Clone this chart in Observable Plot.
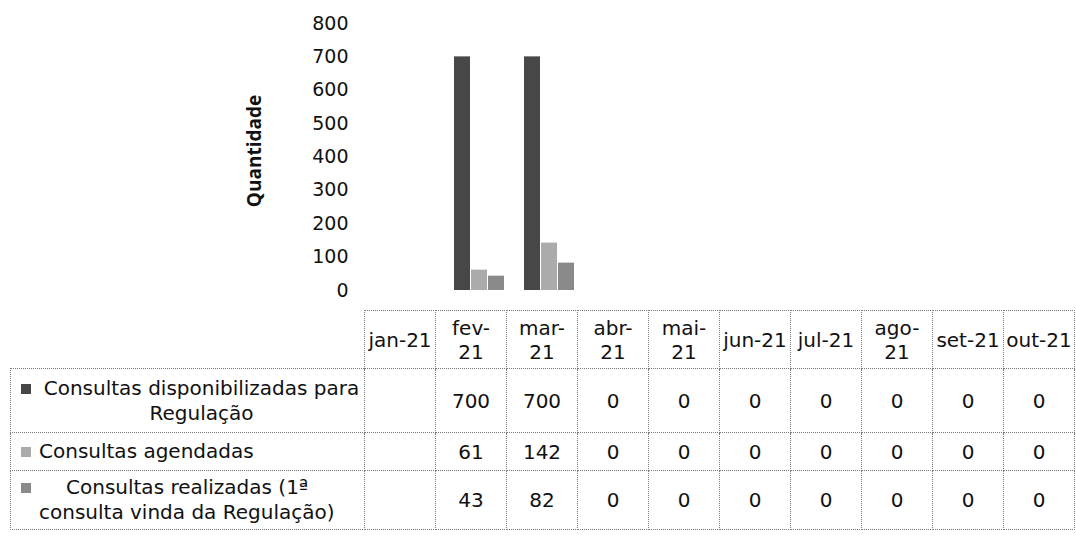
<!DOCTYPE html>
<html><head><meta charset="utf-8">
<script src="https://cdn.jsdelivr.net/npm/d3@7"></script>
<script src="https://cdn.jsdelivr.net/npm/@observablehq/plot@0.6"></script>
<style>
body{margin:0;background:#fff;}
#wrap{position:relative;width:1076px;height:537px;overflow:hidden;font-family:"DejaVu Sans",sans-serif;color:#111;background:#fff;}
#chart{position:absolute;left:0;top:0;}
#ylabel{position:absolute;left:254px;top:151px;transform:translate(-50%,-50%) rotate(-90deg);font-family:"Open Sans",sans-serif;font-weight:700;font-size:19px;white-space:nowrap;color:#111;}
table{position:absolute;left:10px;top:310px;border-collapse:collapse;table-layout:fixed;font-size:20px;}
td{border:1px dotted #7a7a7a;text-align:center;vertical-align:middle;padding:0;white-space:pre-line;line-height:24px;}
td.blank{border:none;}
tr.head td{height:57px;}
.lab{position:relative;padding-left:28px;white-space:pre-line;line-height:25px;}
.sw{position:absolute;left:10px;top:8px;width:10px;height:10px;}
</style>
</head><body>
<div id="wrap">
  <div id="chart"></div>
  <div id="ylabel">Quantidade</div>
  <table id="tbl"></table>
</div>
<script>
// ---- data ----
const months = ["jan-21","fev-21","mar-21","abr-21","mai-21","jun-21","jul-21","ago-21","set-21","out-21"];
const headerLabels = ["jan-21","fev-\n21","mar-\n21","abr-\n21","mai-\n21","jun-21","jul-21","ago-\n21","set-21","out-21"];
const series = [
  "Consultas disponibilizadas para Regulação",
  "Consultas agendadas",
  "Consultas realizadas (1ª consulta vinda da Regulação)"
];
const seriesLabels = [
  "Consultas disponibilizadas para\nRegulação",
  "Consultas agendadas",
  "Consultas realizadas (1ª\nconsulta vinda da Regulação)"
];
const disponibilizadas = [null, 700, 700, 0, 0, 0, 0, 0, 0, 0];
const agendadas        = [null,  61, 142, 0, 0, 0, 0, 0, 0, 0];
const realizadas       = [null,  43,  82, 0, 0, 0, 0, 0, 0, 0];
const yTicks = [0, 100, 200, 300, 400, 500, 600, 700, 800];

// ---- styles ----
const colors = ["#474747", "#ababab", "#8a8a8a"];

const values = [disponibilizadas, agendadas, realizadas];
const rows = [];
months.forEach((m, i) => {
  series.forEach((s, j) => rows.push({month: m, serie: s, value: values[j][i]}));
});

const chart = Plot.plot({
  width: 1076,
  height: 306,
  marginLeft: 374,
  marginRight: 2,
  marginTop: 23,
  marginBottom: 16,
  style: {fontFamily: '"DejaVu Sans", sans-serif', fontSize: "19px", color: "#111", background: "transparent", overflow: "visible"},
  facet: {data: rows, x: "month"},
  fx: {domain: months, paddingInner: 0.243, paddingOuter: 0.121, axis: null, label: null},
  x: {domain: series, padding: 0.05, axis: null},
  y: {domain: [0, 800], ticks: yTicks, tickSize: 0, tickPadding: 35, label: null},
  color: {domain: series, range: colors},
  marks: [
    Plot.barY(rows, {x: "serie", y: "value", fill: "serie"})
  ]
});
document.getElementById("chart").appendChild(chart);

// ---- data table ----
const tbl = document.getElementById("tbl");
const colgroup = document.createElement("colgroup");
const c0 = document.createElement("col"); c0.style.width = "354px"; colgroup.appendChild(c0);
months.forEach(() => { const c = document.createElement("col"); c.style.width = "71px"; colgroup.appendChild(c); });
tbl.appendChild(colgroup);

const head = document.createElement("tr"); head.className = "head";
const blank = document.createElement("td"); blank.className = "blank"; head.appendChild(blank);
headerLabels.forEach(h => { const td = document.createElement("td"); td.textContent = h; head.appendChild(td); });
tbl.appendChild(head);

const rowHeights = [63, 37, 58];
const aligns = ["center", "left", "left"];
const indents = ["0px", "0px", "27px"];
series.forEach((s, j) => {
  const tr = document.createElement("tr");
  const td0 = document.createElement("td");
  td0.style.height = rowHeights[j] + "px";
  const lab = document.createElement("div");
  lab.className = "lab";
  lab.style.textAlign = aligns[j];
  lab.style.textIndent = indents[j];
  const sw = document.createElement("span");
  sw.className = "sw"; sw.style.background = colors[j];
  lab.appendChild(sw);
  lab.appendChild(document.createTextNode(seriesLabels[j]));
  td0.appendChild(lab);
  tr.appendChild(td0);
  values[j].forEach(v => {
    const td = document.createElement("td");
    td.textContent = v == null ? "" : String(v);
    tr.appendChild(td);
  });
  tbl.appendChild(tr);
});
</script>
</body></html>
